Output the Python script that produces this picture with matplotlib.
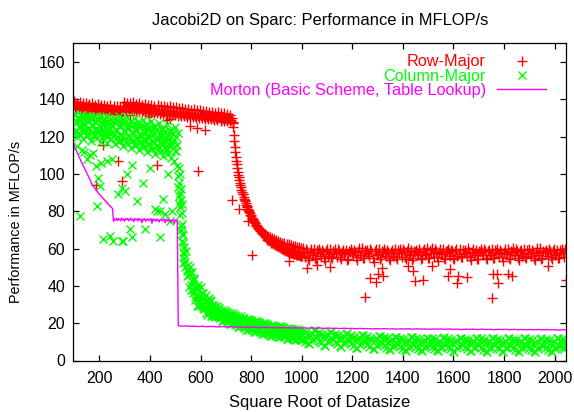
"""Jacobi2D on Sparc: MFLOP/s against the square root of the data size."""

import matplotlib

matplotlib.use("Agg")
import matplotlib.pyplot as plt
import numpy as np
from matplotlib.lines import Line2D

RED = "#ff0000"
GREEN = "#00ff00"
MAGENTA = "#ff00ff"

# ---- Row-Major -------------------------------------------------------------
# plateau before the cache knee, two passes sampled every 6 (from 100 and 103)
row_y_plateau = [
    138.9, 136.0, 137.8, 135.6, 138.4, 136.6, 137.9, 135.4, 138.1, 136.2,
    137.5, 135.1, 137.9, 135.8, 137.0, 134.9, 137.6, 135.6, 136.8, 134.6,
    137.2, 135.3, 136.5, 134.3, 136.9, 134.9, 136.2, 134.1, 136.6, 134.5,
    135.8, 133.9, 136.3,
    138.6, 136.2, 138.1, 135.7, 137.8, 135.9, 138.3, 135.5, 137.5, 135.3,
    137.9, 135.6, 137.2, 134.9, 137.6, 135.2, 136.9, 134.7, 137.2, 134.8,
    136.6, 134.3, 136.9, 134.5, 136.3, 133.9, 136.5, 134.1, 135.9, 133.6,
    136.2, 133.8, 135.6, 133.2, 135.8, 133.4, 135.2, 132.8, 135.4, 133.0,
    134.8, 132.4, 135.0, 132.6, 134.5, 132.0, 134.6, 132.2, 134.1, 131.6,
    134.2, 131.8, 133.7, 131.2, 133.8, 131.4, 133.3, 130.9, 133.4, 131.0,
    132.9, 130.5, 133.0, 130.6, 132.5, 130.1, 132.6, 130.2, 132.1, 129.8,
    131.8, 129.9,
]
row_y_plateau2 = [
    135.4, 134.6, 135.9, 134.8, 135.2, 134.3, 135.6, 134.5, 135.0, 134.1,
    135.3, 134.4, 134.8, 133.9, 135.1, 134.2, 134.6, 133.7, 134.9, 134.0,
    134.4, 133.5, 134.7, 133.8, 134.2, 133.3, 134.5, 133.6, 134.0, 133.1,
    134.3, 133.4, 133.8,
    135.5, 134.3, 135.3, 134.1, 135.1, 133.9, 135.0, 133.8, 134.8, 133.6,
    134.6, 133.4, 134.4, 133.2, 134.2, 133.0, 134.0, 132.8, 133.8, 132.7,
    133.7, 132.5, 133.5, 132.3, 133.3, 132.1, 133.1, 131.9, 132.9, 131.7,
    132.7, 131.6, 132.6, 131.4, 132.4, 131.2, 132.2, 131.0, 132.0, 130.8,
    131.8, 130.6, 131.6, 130.4, 131.5, 130.3, 131.3, 130.1, 131.1, 129.9,
    130.9, 129.7, 130.7, 129.5, 130.5, 129.3, 130.4, 129.2, 130.2, 129.0,
    130.0, 128.8, 129.8, 128.6, 129.6, 128.4, 129.4, 128.2, 129.2, 128.1,
    129.1, 127.9,
]
# fall-off after the knee, sampled every 4 (from 728 and 730)
row_y_drop = [
    127.5, 121.0, 114.5, 109.0, 105.5, 101.0, 98.5, 95.0, 93.0, 90.5,
    89.0, 86.5, 85.5, 83.5, 82.5, 80.5, 79.8, 78.0, 77.5, 76.0,
    75.5, 74.0, 73.6, 72.3, 72.0, 70.8, 70.7, 69.6, 69.6, 68.5,
    68.7, 67.6, 67.9, 67.5, 64.5, 66.8, 63.8, 66.2, 63.0, 65.5,
    62.2, 65.0, 61.8, 64.6, 61.3, 64.1, 60.6, 63.6, 60.2, 63.2,
    59.7, 62.9, 59.3, 62.5, 58.8, 62.2, 58.4, 61.9, 58.0, 61.6,
    57.6, 61.3, 57.3, 61.0, 56.9, 60.7, 56.5, 60.4, 56.2,
]
row_y_drop2 = [
    125.0, 117.5, 111.5, 107.0, 103.0, 99.5, 96.5, 94.0, 91.5, 89.5,
    87.5, 86.0, 84.3, 83.0, 81.3, 80.2, 78.8, 77.8, 76.5, 75.6,
    74.5, 73.8, 72.8, 72.2, 71.2, 70.6, 69.8, 69.3, 68.5, 68.0,
    67.3, 66.9, 66.2, 65.9, 65.3, 65.0, 64.4, 64.1, 63.6, 63.3,
    62.8, 62.5, 62.0, 61.8, 61.3, 61.1, 60.6, 60.4, 60.0, 59.8,
    59.4, 59.2, 58.8, 58.6, 58.3, 58.1, 57.8, 57.7, 57.4, 57.3,
    57.0, 56.9, 56.7, 56.6, 56.4, 56.3, 56.1, 56.0,
]
# large sizes, two passes sampled every 8 (from 1004 and 1008)
row_y_tail = [
    60.1, 55.6, 58.9, 53.8, 59.7, 57.4, 54.9, 59.0, 59.5, 56.1, 58.3, 53.2, 60.0, 57.0, 55.3, 58.6,
    59.8, 55.4, 58.7, 54.4, 59.3, 57.6, 53.7, 58.9, 59.9, 56.5, 58.1, 54.0, 60.2, 56.8, 55.1, 59.2,
    59.4, 55.9, 58.8, 52.9, 59.6, 57.3, 54.6, 58.5, 60.0, 56.2, 58.4, 53.9, 59.1, 57.8, 55.4, 59.3,
    59.7, 55.7, 58.6, 54.3, 60.1, 57.1, 53.6, 58.8, 59.2, 56.4, 58.0, 54.7, 59.8, 56.9, 55.0, 59.1,
    60.2, 55.5, 58.5, 53.4, 59.5, 57.5, 54.8, 58.7, 59.6, 56.0, 58.9, 54.2, 59.9, 57.2, 55.5, 59.0,
    59.3, 55.8, 58.2, 53.7, 60.0, 57.7, 54.5, 58.6, 59.9, 56.3, 58.7, 54.6, 59.4, 56.7, 55.2, 59.4,
    59.5, 55.3, 58.4, 53.1, 59.7, 57.4, 54.7, 58.8, 60.1, 56.6, 58.8, 54.1, 59.2, 57.0, 55.6, 59.1,
    59.7, 55.9, 58.3, 53.8, 60.2, 57.6, 54.4, 58.5, 59.4, 56.2, 58.9, 54.5, 59.6, 56.9, 55.1, 59.3,
    59.8, 55.6, 58.4,
]
row_y_tail2 = [
    57.8, 59.6, 55.2, 58.4, 56.6, 60.0, 54.5, 58.1, 58.2, 59.3, 54.8, 58.7, 56.1, 59.7, 55.0, 57.6,
    57.5, 59.9, 55.6, 58.2, 56.9, 59.4, 54.2, 58.4, 58.0, 59.1, 55.3, 58.9, 56.3, 60.1, 54.7, 57.9,
    57.6, 59.8, 54.9, 58.5, 56.7, 59.5, 55.4, 58.3, 58.4, 59.4, 55.1, 58.0, 56.2, 59.9, 54.4, 57.7,
    57.9, 60.0, 55.7, 58.6, 56.8, 59.2, 54.9, 58.2, 58.1, 59.5, 54.6, 58.8, 56.4, 60.2, 55.2, 57.8,
    57.7, 59.7, 55.4, 58.3, 57.0, 59.6, 54.3, 58.5, 58.3, 59.2, 55.0, 58.9, 56.0, 59.8, 55.3, 57.5,
    57.6, 60.1, 55.5, 58.1, 56.7, 59.3, 54.6, 58.2, 58.0, 59.6, 54.8, 58.6, 56.5, 60.0, 55.1, 57.9,
    57.8, 59.4, 55.6, 58.4, 56.9, 59.7, 54.5, 58.4, 58.2, 59.9, 55.2, 58.7, 56.2, 59.5, 55.0, 57.6,
    57.5, 59.3, 54.7, 58.2, 56.6, 60.1, 54.8, 58.0, 58.1, 59.8, 55.3, 58.5, 56.4, 59.4, 55.2, 57.8,
    57.9, 59.6,
]
row_out_x = [186, 216, 272, 290, 321, 397, 427, 466, 479, 558, 585, 591, 618, 725, 751,
             789, 804, 950, 1021, 1060, 1110, 1250, 1272, 1292, 1302, 1316, 1323, 1421, 1441, 1448,
             1481, 1514, 1580, 1586, 1615, 1619, 1655, 1751, 1757, 1773, 1777, 1817, 1830, 1975, 2044]
row_out_y = [94.2, 115.7, 106.8, 96.3, 131.8, 131.2, 104.6, 128.8, 129.3, 125.5, 124.8, 101.8, 123.5, 86.2, 81.2,
             74.7, 56.6, 53.3, 49.7, 51.0, 50.2, 33.8, 44.0, 42.0, 46.2, 49.7, 45.2, 50.6, 47.9, 42.5,
             43.4, 50.6, 45.2, 48.8, 41.7, 45.2, 44.9, 33.6, 46.1, 46.1, 41.7, 46.1, 45.2, 50.6, 43.4]

# ---- Column-Major ----------------------------------------------------------
# in-cache band, two passes sampled every 4 (from 100 and 102)
col_y_plateau = [
    132.0, 122.5, 128.4, 119.8, 130.6, 125.1, 121.0, 131.5, 126.8, 118.9,
    129.3, 123.4, 131.0, 120.2, 127.6, 124.0, 130.2, 117.8, 126.1, 129.7,
    121.3, 131.2, 124.6, 119.0, 128.7, 122.4, 130.5, 117.2, 126.9, 129.0,
    120.6, 124.8, 130.8, 116.5, 127.3, 122.0, 129.6, 118.7, 125.5, 130.1,
    115.9, 123.6, 128.2, 120.0, 131.0, 117.4, 126.0, 129.4, 114.8, 122.9,
    127.7, 119.3, 130.4, 116.2, 124.7, 128.6, 113.9, 121.8, 126.5, 118.1,
    129.9, 115.4, 123.5, 127.9, 112.6, 120.4, 125.8, 117.0, 129.1, 114.3,
    122.1, 126.9, 111.8, 119.5, 124.6, 116.0, 128.3, 113.1, 121.0, 125.7,
    110.9, 118.6, 123.9, 114.8, 127.5, 112.0, 119.9, 124.8, 109.6, 117.3,
    122.7, 113.5, 126.6, 110.7, 118.9, 123.6, 108.4, 116.0, 121.5, 106.9,
    125.4, 112.3, 104.5,
]
col_y_plateau2 = [
    131.5, 123.4, 127.8, 121.7, 129.6, 125.0, 131.6, 123.8, 130.7, 122.6,
    127.0, 120.9, 128.8, 124.2, 130.8, 123.0, 129.9, 121.8, 126.2, 120.1,
    128.0, 123.4, 130.0, 122.2, 129.1, 121.0, 125.4, 119.3, 127.2, 122.6,
    129.2, 121.4, 128.3, 120.2, 124.6, 118.5, 126.4, 121.8, 128.4, 120.6,
    127.5, 119.4, 123.8, 117.7, 125.6, 121.0, 127.6, 119.8, 126.7, 118.6,
    123.0, 116.9, 124.8, 120.2, 126.8, 119.0, 125.9, 117.8, 122.2, 116.1,
    124.0, 119.4, 126.0, 118.2, 125.1, 117.0, 121.4, 115.3, 123.2, 118.6,
    125.2, 117.4, 124.3, 116.2, 120.6, 114.5, 122.4, 117.8, 124.4, 116.6,
    123.5, 115.4, 119.8, 113.7, 121.6, 117.0, 123.6, 115.8, 122.7, 114.6,
    119.0, 112.9, 120.8, 116.2, 122.8, 115.0, 121.9, 113.8, 118.2, 112.1,
    120.0, 115.4, 122.0,
]
# collapse right after 512
col_cascade_x = [509, 512, 513, 514, 515, 516, 517, 518, 519, 520, 521, 522, 523, 524,
                 525, 526, 526, 527, 528, 529, 530, 531, 532, 533, 534, 536, 539, 540]
col_cascade_y = [99, 93, 103, 84, 95, 88, 100, 78, 82, 90, 92, 72, 86, 70,
                 84, 79, 64, 68, 73, 58, 67, 52, 63, 61, 57, 55, 50, 53]
# decay, two passes sampled every 4 (from 544 and 546)
col_y_drop = [
    58.6, 45.2, 49.3, 39.3, 47.5, 40.6, 47.2, 36.4, 44.1, 32.6,
    38.2, 29.3, 38.6, 32.4, 39.5, 29.2, 36.0, 27.6, 32.0, 25.5,
    32.6, 28.1, 33.5, 25.9, 32.1, 23.9, 28.0, 23.7, 28.5, 25.5,
    29.1, 24.0, 28.1, 22.6, 25.6, 21.4, 26.2, 23.3, 27.0, 21.9,
    26.1, 20.7, 23.8, 19.6, 24.5, 21.6, 25.3, 20.3, 24.5, 19.1,
    22.2, 18.0, 22.9, 20.0, 23.7, 18.7, 23.0, 17.6, 20.7, 16.5,
    21.5, 18.6, 22.3, 17.4, 21.6, 16.3, 19.4, 15.3, 20.2, 17.4,
    21.1, 16.2, 20.5, 15.1, 18.3, 14.2, 19.1, 16.3, 20.1, 15.2,
    19.5, 14.1, 17.3, 13.2, 18.2, 15.4, 19.2, 14.3, 18.6, 13.3,
    16.5, 12.4, 17.4, 14.6, 18.4, 13.5, 17.8, 12.5, 15.7, 11.6,
    16.6, 13.8, 17.6, 12.7, 17.0, 11.7, 14.9, 10.8, 15.8, 13.0,
    16.8, 11.9, 16.2, 10.9, 14.1,
]
col_y_drop2 = [
    47.9, 51.4, 45.6, 49.9, 37.7, 42.5, 37.7, 43.3, 34.3, 39.6,
    35.0, 40.4, 29.2, 34.5, 30.2, 36.4, 27.9, 33.6, 29.4, 35.2,
    24.3, 30.0, 26.0, 32.4, 24.1, 30.0, 26.5, 29.6, 23.5, 26.6,
    24.3, 27.9, 23.1, 26.3, 24.1, 27.3, 21.3, 24.5, 22.2, 25.8,
    21.2, 24.5, 22.3, 25.6, 19.6, 22.8, 20.6, 24.2, 19.6, 22.9,
    20.7, 24.0, 18.0, 21.2, 19.0, 22.6, 18.1, 21.4, 19.2, 22.5,
    16.6, 19.8, 17.6, 21.3, 16.7, 20.1, 17.9, 21.3, 15.3, 18.6,
    16.4, 20.1, 15.6, 19.0, 16.8, 20.2, 14.2, 17.5, 15.4, 19.1,
    14.6, 17.9, 15.8, 19.2, 13.3, 16.6, 14.5, 18.2, 13.7, 17.1,
    15.0, 18.4, 12.5, 15.8, 13.7, 17.4, 12.9, 16.3, 14.2, 17.6,
    11.7, 15.0, 12.9, 16.6, 12.1, 15.5, 13.4, 16.8, 10.9, 14.2,
    12.1, 15.8, 11.3, 14.7,
]
# large sizes, two passes sampled every 8 (from 1004 and 1008)
col_y_tail = [
    16.0, 10.1, 13.8, 9.1, 14.8, 11.6, 16.3, 12.5, 15.2, 9.4, 12.6, 8.0, 14.1, 10.9, 15.4, 11.6,
    14.2, 8.6, 12.1, 7.2, 13.3, 9.9, 14.6, 10.8, 13.7, 7.8, 11.2, 6.7, 12.4, 9.4, 13.9, 10.3,
    13.0, 7.1, 10.8, 6.1, 11.9, 8.6, 13.3, 9.5, 12.6, 6.8, 10.1, 5.4, 11.5, 8.3, 12.8, 9.0,
    12.3, 6.3, 9.9, 5.3, 11.0, 7.8, 12.5, 8.9, 12.0, 6.2, 9.7, 4.9, 10.9, 7.7, 12.3, 8.5,
    11.8, 6.0, 9.6, 5.1, 10.7, 7.5, 12.4, 8.6, 11.9, 5.9, 9.4, 4.7, 10.8, 7.6, 12.1, 8.3,
    11.7, 6.1, 9.5, 4.9, 10.6, 7.4, 12.2, 8.4, 11.8, 5.8, 9.3, 4.6, 10.7, 7.5, 12.0, 8.2,
    11.6, 5.9, 9.2, 4.8, 10.4, 7.3, 12.1, 8.3, 11.7, 5.6, 9.4, 4.5, 10.6, 7.2, 11.9, 8.1,
    11.5, 5.8, 9.1, 4.7, 10.3, 7.4, 12.0, 8.2, 11.6, 5.7, 9.2, 4.4, 10.5, 7.1, 11.8, 8.0,
    11.4, 5.9, 9.0,
]
col_y_tail2 = [
    11.6, 15.2, 9.3, 13.8, 10.6, 16.1, 12.2, 14.4, 10.7, 14.3, 8.4, 12.9, 9.7, 15.2, 11.3, 13.5,
    9.9, 13.5, 7.6, 12.1, 8.9, 14.4, 10.5, 12.7, 9.2, 12.8, 6.9, 11.4, 8.2, 13.7, 9.8, 12.0,
    8.6, 12.2, 6.3, 10.8, 7.6, 13.1, 9.2, 11.4, 8.2, 11.8, 5.9, 10.4, 7.2, 12.7, 8.8, 11.0,
    7.9, 11.5, 5.6, 10.1, 6.9, 12.4, 8.5, 10.7, 7.8, 11.4, 5.5, 10.0, 6.8, 12.3, 8.4, 10.6,
    7.7, 11.3, 5.4, 9.9, 6.7, 12.2, 8.3, 10.5, 7.6, 11.2, 5.3, 9.8, 6.6, 12.1, 8.2, 10.4,
    7.5, 11.1, 5.2, 9.7, 6.5, 12.0, 8.1, 10.3, 7.4, 11.2, 5.1, 9.8, 6.4, 11.9, 8.2, 10.2,
    7.5, 11.0, 5.2, 9.5, 6.5, 11.8, 8.0, 10.3, 7.3, 11.1, 5.0, 9.7, 6.3, 12.0, 7.9, 10.1,
    7.4, 10.8, 5.1, 9.4, 6.4, 11.7, 8.0, 10.2, 7.2, 11.0, 4.9, 9.6, 6.2, 11.9, 7.8, 10.0,
    7.3, 10.9,
]
col_out_x = [110, 124, 130, 140, 150, 165, 175, 185, 190, 196, 203, 205, 216, 229, 242,
             250, 255, 275, 288, 288, 295, 302, 308, 321, 328, 330, 348, 374, 381, 400,
             420, 427, 440, 440, 453, 460, 470, 479, 486]
col_out_y = [115, 77.4, 113, 112, 108, 110, 111, 104, 83, 98, 93.5, 106, 65, 107, 66.7,
             108, 64, 89, 64, 92.6, 64, 90.8, 99.8, 70.3, 66, 105, 85.5, 95.3, 70.3, 103,
             81, 80, 80, 66, 86.4, 78.3, 100, 74.7, 80]

# ---- Morton (basic scheme, table lookup) ----------------------------------
mort_y_head = [  # every 4 from 100
    115.5, 114.0, 113.0, 111.5, 110.4, 109.0, 108.0, 106.6, 105.6, 104.4,
    103.4, 102.1, 101.2, 99.9, 99.0, 97.6, 96.8, 95.3, 94.3, 93.6,
    92.6, 92.1, 91.1, 90.6, 89.7, 89.3, 88.4, 88.0, 87.2, 86.9,
    86.0, 85.7, 84.8, 84.5, 83.6, 83.3, 82.4, 82.2, 81.3,
]
mort_y_mid = [  # every 4 from 256
    74.6, 75.9, 75.2, 76.3, 75.0, 76.1, 75.6, 74.8, 76.4, 75.3,
    75.9, 74.7, 76.0, 75.5, 76.2, 74.9, 75.7, 76.3, 75.1, 75.8,
    74.5, 76.1, 75.4, 75.9, 74.8, 76.2, 75.3, 75.7, 73.9, 75.9,
    75.2, 76.0, 74.6, 75.6, 75.9, 74.9, 75.5, 76.1, 73.6, 75.8,
    75.1, 75.7, 74.7, 75.9, 75.3, 74.2, 75.6, 75.8, 74.8, 75.4,
    76.0, 73.8, 75.5, 75.2, 74.6, 75.7, 75.0, 74.1, 75.5, 75.2,
    73.5, 75.4, 74.9, 75.3,
]
mort_y_tail = [  # every 16 from 512
    18.6, 18.4, 18.5, 18.3, 18.4, 18.2, 18.4, 18.1, 18.3, 18.2, 18.0, 18.2, 17.9, 18.1, 18.0, 17.8,
    18.0, 17.7, 17.9, 17.8, 17.6, 17.8, 17.6, 17.7, 17.5, 17.7, 17.5, 17.6, 17.4, 17.6, 17.4, 17.5,
    17.3, 17.5, 17.3, 17.4, 17.2, 17.4, 17.2, 17.3, 17.1, 17.3, 17.1, 17.2, 17.0, 17.2, 17.0, 17.1,
    16.9, 17.1, 16.9, 17.1, 16.9, 17.0, 16.8, 17.0, 16.9, 17.0, 16.8, 17.0, 16.8, 16.9, 16.7, 16.9,
    16.8, 16.9, 16.7, 16.9, 16.7, 16.8, 16.6, 16.8, 16.7, 16.8, 16.6, 16.8, 16.6, 16.7, 16.5, 16.7,
    16.6, 16.7, 16.5, 16.7, 16.5, 16.6, 16.4, 16.6, 16.5, 16.6, 16.4, 16.6, 16.4, 16.5, 16.3, 16.5,
    16.4,
]

XTICKS = list(range(200, 2001, 200))
YTICKS = list(range(0, 161, 20))


def grid(start, step, values):
    return start + step * np.arange(len(values))


row_x = np.concatenate([grid(100, 6, row_y_plateau), grid(103, 6, row_y_plateau2),
                        grid(728, 4, row_y_drop), grid(730, 4, row_y_drop2),
                        grid(1004, 8, row_y_tail), grid(1008, 8, row_y_tail2), row_out_x])
row_y = np.concatenate([row_y_plateau, row_y_plateau2, row_y_drop, row_y_drop2,
                        row_y_tail, row_y_tail2, row_out_y])
col_x = np.concatenate([grid(100, 4, col_y_plateau), grid(102, 4, col_y_plateau2), col_cascade_x,
                        grid(544, 4, col_y_drop), grid(546, 4, col_y_drop2),
                        grid(1004, 8, col_y_tail), grid(1008, 8, col_y_tail2), col_out_x])
col_y = np.concatenate([col_y_plateau, col_y_plateau2, col_cascade_y, col_y_drop, col_y_drop2,
                        col_y_tail, col_y_tail2, col_out_y])
mort_x = np.concatenate([grid(100, 4, mort_y_head), grid(256, 4, mort_y_mid), grid(512, 16, mort_y_tail)])
mort_y = np.concatenate([mort_y_head, mort_y_mid, mort_y_tail])

plt.rcParams.update({
    "font.family": ["Liberation Sans", "DejaVu Sans"],
    "font.size": 11.4,
    "axes.linewidth": 0.9,
    "axes.edgecolor": "black",
})

W, H = 574, 412
fig = plt.figure(figsize=(W / 100, H / 100), dpi=100)
ax = fig.add_axes([73.3 / W, 1 - 360.5 / H, (566 - 73.3) / W, (360.5 - 43.3) / H])


def fpos(x, y):
    """Pixel position -> figure fraction."""
    return x / W, 1 - y / H


PLUS = dict(ls="none", marker="+", ms=6.8, mew=1.0, color=RED)
CROSS = dict(ls="none", marker="x", ms=6.4, mew=1.0, color=GREEN)

ax.plot(row_x, row_y, **PLUS)
ax.plot(col_x, col_y, **CROSS)
ax.plot(mort_x, mort_y, ls="-", lw=1.0, color=MAGENTA)

ax.set_xlim(97, 2045)
ax.set_ylim(0, 170)
ax.set_xticks(XTICKS)
ax.set_yticks(YTICKS)
ax.tick_params(direction="in", top=True, right=True, length=4, width=0.9, labelsize=11.4)
ax.tick_params(axis="x", pad=7.5)
ax.tick_params(axis="y", pad=6)

fig.text(*fpos(320, 25), "Jacobi2D on Sparc: Performance in MFLOP/s",
         ha="center", va="baseline", fontsize=11.9)
fig.text(*fpos(320, 406.5), "Square Root of Datasize", ha="center", va="baseline", fontsize=11.9)
fig.text(*fpos(20.5, 221.7), "Performance in MFLOP/s", rotation=90, rotation_mode="anchor",
         ha="center", va="baseline", fontsize=10.4)

# key, top right
key = [("Row-Major", RED, 66), ("Column-Major", GREEN, 80.5),
       ("Morton (Basic Scheme, Table Lookup)", MAGENTA, 95)]
for label, color, base in key:
    fig.text(*fpos(486, base), label, color=color, ha="right", va="baseline", fontsize=11.7)
kx, ky = fpos(521.5, 60.5)
fig.add_artist(Line2D([kx], [ky], transform=fig.transFigure, **PLUS))
kx, ky = fpos(521.5, 75)
fig.add_artist(Line2D([kx], [ky], transform=fig.transFigure, **CROSS))
x0, yl = fpos(497, 89)
x1, _ = fpos(546, 89)
fig.add_artist(Line2D([x0, x1], [yl, yl], lw=1.0, color=MAGENTA, transform=fig.transFigure))

fig.savefig("out.png", dpi=100)
